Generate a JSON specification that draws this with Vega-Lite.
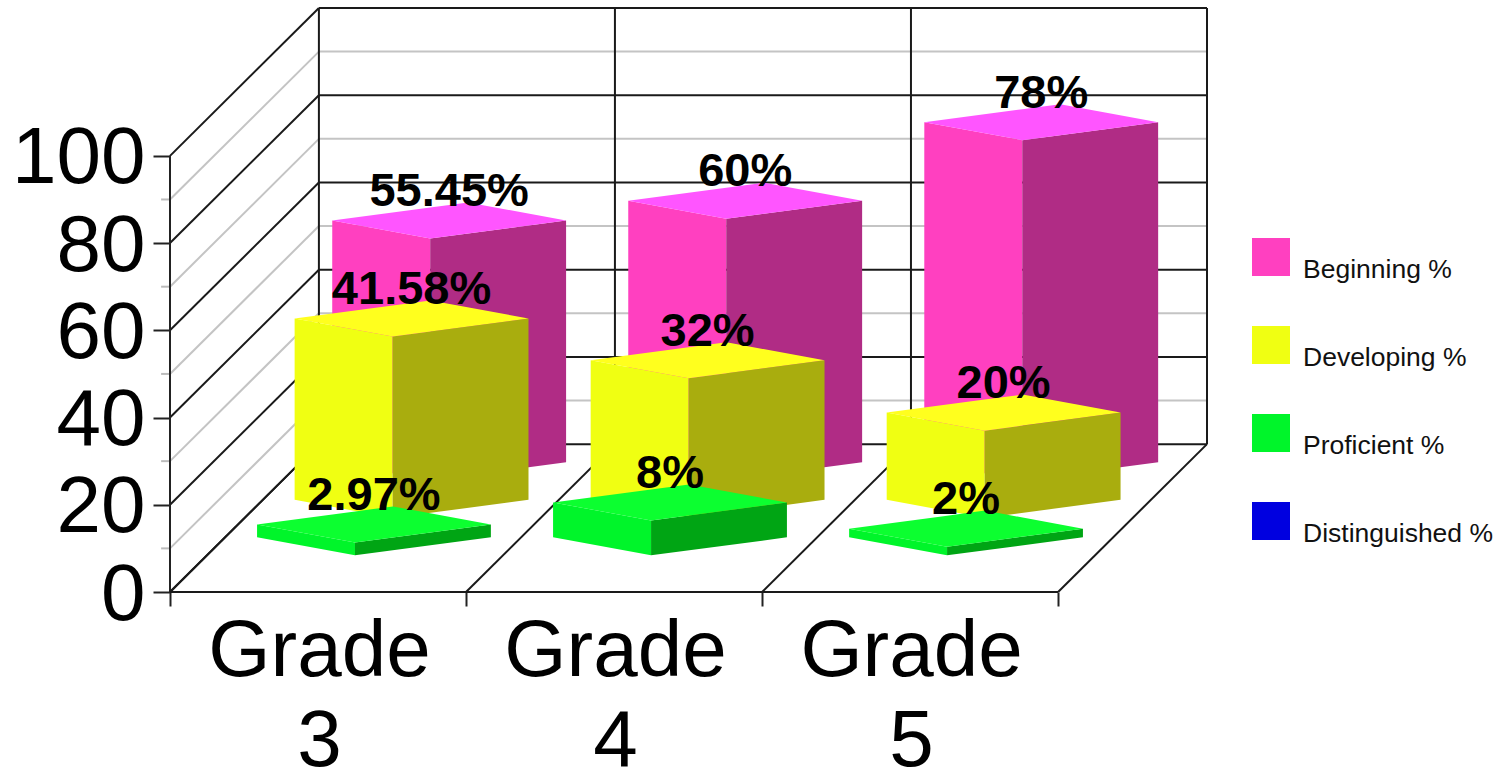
{
  "$schema": "https://vega.github.io/schema/vega-lite/v6.json",
  "width": 1037,
  "height": 584,
  "autosize": {"type": "none"},
  "padding": {"left": 170, "top": 8, "right": 289, "bottom": 179},
  "background": "white",
  "config": {
    "view": {"stroke": null},
    "font": "Liberation Sans"
  },
  "datasets": {
    "levels": [
      {"level": 0, "major": true}, {"level": 10, "major": false},
      {"level": 20, "major": true}, {"level": 30, "major": false},
      {"level": 40, "major": true}, {"level": 50, "major": false},
      {"level": 60, "major": true}, {"level": 70, "major": false},
      {"level": 80, "major": true}, {"level": 90, "major": false},
      {"level": 100, "major": true}
    ],
    "divisions": [{"g": 0}, {"g": 1}, {"g": 2}, {"g": 3}],
    "bars": [
      {"grade": 3, "series": "Beginning %", "rank": 0, "value": 55.45},
      {"grade": 4, "series": "Beginning %", "rank": 0, "value": 60},
      {"grade": 5, "series": "Beginning %", "rank": 0, "value": 78},
      {"grade": 3, "series": "Developing %", "rank": 1, "value": 41.58},
      {"grade": 4, "series": "Developing %", "rank": 1, "value": 32},
      {"grade": 5, "series": "Developing %", "rank": 1, "value": 20},
      {"grade": 3, "series": "Proficient %", "rank": 2, "value": 2.97},
      {"grade": 4, "series": "Proficient %", "rank": 2, "value": 8},
      {"grade": 5, "series": "Proficient %", "rank": 2, "value": 2},
      {"grade": 3, "series": "Distinguished %", "rank": 3, "value": 0},
      {"grade": 4, "series": "Distinguished %", "rank": 3, "value": 0},
      {"grade": 5, "series": "Distinguished %", "rank": 3, "value": 0}
    ]
  },
  "encoding": {
    "x": {
      "field": "sx",
      "type": "quantitative",
      "scale": {"domain": [0, 3.503], "nice": false, "zero": false},
      "axis": {
        "title": null,
        "grid": false,
        "domain": false,
        "values": [0, 1, 2, 3],
        "tickColor": "#222222",
        "tickWidth": 2,
        "tickSize": 14,
        "labelFontSize": 80,
        "labelColor": "#000000",
        "labelOffset": 149,
        "labelPadding": 6,
        "labelBaseline": "top",
        "labelLineHeight": 90,
        "labelFlush": false,
        "labelBound": false,
        "labelOverlap": false,
        "labelLimit": 0,
        "labelExpr": "datum.value < 3 ? ['Grade', toString(datum.value + 3)] : ''"
      }
    },
    "y": {
      "field": "sy",
      "type": "quantitative",
      "scale": {"domain": [0, 133.9], "nice": false, "zero": false},
      "axis": {
        "title": null,
        "grid": false,
        "domain": false,
        "values": [0, 20, 40, 60, 80, 100],
        "tickColor": "#222222",
        "tickWidth": 2,
        "tickSize": 17,
        "labelFontSize": 80,
        "labelColor": "#000000",
        "labelPadding": 8,
        "labelOffset": 3,
        "labelFlush": false,
        "labelBound": false,
        "labelOverlap": false,
        "labelLimit": 0
      }
    }
  },
  "layer": [
    {
      "description": "Left wall level lines",
      "data": {"name": "levels"},
      "transform": [
        {"calculate": "0", "as": "sx"},
        {"calculate": "0.503", "as": "sx2"},
        {"calculate": "datum.level", "as": "sy"},
        {"calculate": "datum.level + 33.9", "as": "sy2"}
      ],
      "mark": {"type": "rule"},
      "encoding": {
        "x2": {"field": "sx2"},
        "y2": {"field": "sy2"},
        "stroke": {"condition": {"test": "datum.major", "value": "#1a1a1a"}, "value": "#c4c4c4"},
        "strokeWidth": {"value": 2}
      }
    },
    {
      "description": "Back wall level lines",
      "data": {"name": "levels"},
      "transform": [
        {"calculate": "0.503", "as": "sx"},
        {"calculate": "3.503", "as": "sx2"},
        {"calculate": "datum.level + 33.9", "as": "sy"},
        {"calculate": "datum.level + 33.9", "as": "sy2"}
      ],
      "mark": {"type": "rule"},
      "encoding": {
        "x2": {"field": "sx2"},
        "y2": {"field": "sy2"},
        "stroke": {"condition": {"test": "datum.major", "value": "#1a1a1a"}, "value": "#c4c4c4"},
        "strokeWidth": {"value": 2}
      }
    },
    {
      "description": "Minor ticks on the value axis",
      "data": {"name": "levels"},
      "transform": [
        {"filter": "!datum.major"},
        {"calculate": "-0.03", "as": "sx"},
        {"calculate": "0", "as": "sx2"},
        {"calculate": "datum.level", "as": "sy"},
        {"calculate": "datum.level", "as": "sy2"}
      ],
      "mark": {"type": "rule", "stroke": "#bbbbbb", "strokeWidth": 2},
      "encoding": {"x2": {"field": "sx2"}, "y2": {"field": "sy2"}}
    },
    {
      "description": "Value axis line",
      "data": {"values": [{"sx": 0, "sx2": 0, "sy": 0, "sy2": 100}]},
      "mark": {"type": "rule", "stroke": "#222222", "strokeWidth": 2},
      "encoding": {"x2": {"field": "sx2"}, "y2": {"field": "sy2"}}
    },
    {
      "description": "Front edge of the floor",
      "data": {"values": [{"sx": 0, "sx2": 3, "sy": 0, "sy2": 0}]},
      "mark": {"type": "rule", "stroke": "#1a1a1a", "strokeWidth": 2},
      "encoding": {"x2": {"field": "sx2"}, "y2": {"field": "sy2"}}
    },
    {
      "description": "Floor lines running into depth",
      "data": {"name": "divisions"},
      "transform": [
        {"calculate": "datum.g", "as": "sx"},
        {"calculate": "datum.g + 0.503", "as": "sx2"},
        {"calculate": "0", "as": "sy"},
        {"calculate": "33.9", "as": "sy2"}
      ],
      "mark": {"type": "rule", "stroke": "#1a1a1a", "strokeWidth": 2},
      "encoding": {"x2": {"field": "sx2"}, "y2": {"field": "sy2"}}
    },
    {
      "description": "Back wall vertical dividers",
      "data": {"name": "divisions"},
      "transform": [
        {"calculate": "datum.g + 0.503", "as": "sx"},
        {"calculate": "datum.g + 0.503", "as": "sx2"},
        {"calculate": "33.9", "as": "sy"},
        {"calculate": "133.9", "as": "sy2"}
      ],
      "mark": {"type": "rule", "stroke": "#1a1a1a", "strokeWidth": 2},
      "encoding": {"x2": {"field": "sx2"}, "y2": {"field": "sy2"}}
    },
    {
      "description": "Prism faces projected from each value",
      "data": {"name": "bars"},
      "transform": [
        {"filter": "datum.value > 0"},
        {"calculate": "datum.grade - 3 + 0.879 - datum.rank * 0.127", "as": "fx"},
        {"calculate": "25.6 - datum.rank * 8.6", "as": "fy"},
        {
          "calculate": "[{face: 'left', dx: -0.331, lo: 4.13, hi: 4.13, b: 0}, {face: 'left', dx: 0, lo: 0, hi: 0, b: 0}, {face: 'right', dx: 0, lo: 0, hi: 0, b: 0}, {face: 'right', dx: 0.459, lo: 4.13, hi: 4.13, b: 0}, {face: 'top', dx: -0.331, lo: 4.13, hi: 4.13, b: 1}, {face: 'top', dx: 0, lo: 0, hi: 7.11, b: 1}, {face: 'top', dx: 0.128, lo: 1.15, hi: 8.26, b: 1}, {face: 'top', dx: 0.459, lo: 4.13, hi: 4.13, b: 1}]",
          "as": "corners"
        },
        {"flatten": ["corners"], "as": ["corner"]},
        {"calculate": "datum.corner.face", "as": "face"},
        {"calculate": "datum.fx + datum.corner.dx", "as": "sx"},
        {"calculate": "datum.fy + datum.corner.lo + datum.corner.b * datum.value", "as": "sy"},
        {"calculate": "datum.fy + datum.corner.hi + datum.value", "as": "sy2"},
        {"calculate": "datum.series + '|' + datum.grade + '|' + datum.face", "as": "faceKey"},
        {"calculate": "datum.series + '|' + datum.face", "as": "shade"}
      ],
      "layer": [
        {
          "transform": [{"filter": "datum.face === 'left'"}],
          "mark": {"type": "area", "interpolate": "linear"},
          "encoding": {
            "y2": {"field": "sy2"},
            "detail": {"field": "faceKey", "type": "nominal"},
            "color": {
              "field": "shade",
              "type": "nominal",
              "scale": {
                "domain": [
                  "Beginning %|left", "Developing %|left", "Proficient %|left", "Distinguished %|left",
                  "Beginning %|right", "Developing %|right", "Proficient %|right", "Distinguished %|right",
                  "Beginning %|top", "Developing %|top", "Proficient %|top", "Distinguished %|top"
                ],
                "range": [
                  "#ff40c0", "#f0ff12", "#00f52a", "#0000e0",
                  "#b02c85", "#a9ad0e", "#00a514", "#000090",
                  "#ff55ff", "#ffff1e", "#0cff30", "#2020ff"
                ]
              },
              "legend": {
                "title": null,
                "orient": "none",
                "legendX": 1082,
                "legendY": 230,
                "values": ["Beginning %|left", "Developing %|left", "Proficient %|left", "Distinguished %|left"],
                "symbolType": "square",
                "symbolSize": 1444,
                "symbolStrokeWidth": 0,
                "rowPadding": 42,
                "labelFontSize": 26.5,
                "labelColor": "#111111",
                "labelOffset": 13,
                "labelLimit": 0,
                "labelBaseline": "top",
                "labelExpr": "split(datum.label, '|')[0]",
                "encoding": {
                  "labels": {
                    "update": {
                      "dx": {"signal": "indexof(datum.value, 'Proficient') === 0 ? 6 : 0"},
                      "dy": {"value": -2}
                    }
                  }
                }
              }
            }
          }
        },
        {
          "transform": [{"filter": "datum.face === 'right'"}],
          "mark": {"type": "area", "interpolate": "linear"},
          "encoding": {
            "y2": {"field": "sy2"},
            "detail": {"field": "faceKey", "type": "nominal"},
            "color": {"field": "shade", "type": "nominal"}
          }
        },
        {
          "transform": [{"filter": "datum.face === 'top'"}],
          "mark": {"type": "area", "interpolate": "linear"},
          "encoding": {
            "y2": {"field": "sy2"},
            "detail": {"field": "faceKey", "type": "nominal"},
            "color": {"field": "shade", "type": "nominal"}
          }
        }
      ]
    },
    {
      "description": "Value labels above each prism",
      "data": {"name": "bars"},
      "transform": [
        {"filter": "datum.value > 0"},
        {"calculate": "datum.grade - 3 + 0.879 - datum.rank * 0.127 + 0.064", "as": "sx"},
        {"calculate": "25.6 - datum.rank * 8.6 + datum.value + 10.6", "as": "sy"},
        {"calculate": "datum.value + '%'", "as": "label"}
      ],
      "mark": {
        "type": "text",
        "align": "center",
        "baseline": "middle",
        "fontSize": 47,
        "fontWeight": "bold",
        "color": "#000000"
      },
      "encoding": {"text": {"field": "label", "type": "nominal"}}
    }
  ]
}
